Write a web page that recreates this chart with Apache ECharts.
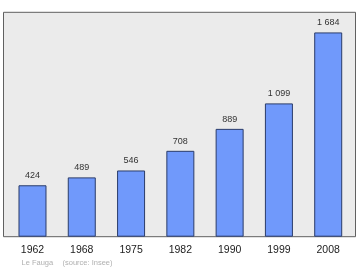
<!DOCTYPE html>
<html>
<head>
<meta charset="utf-8">
<script src="https://cdn.jsdelivr.net/npm/echarts@6/dist/echarts.min.js"></script>
<style>html,body{margin:0;padding:0;background:#fff;}#c{width:360px;height:270px;}</style>
</head>
<body>
<div id="c"></div>
<script>
var years = ['1962', '1968', '1975', '1982', '1990', '1999', '2008'];
var population = [424, 489, 546, 708, 889, 1099, 1684];
var placeName = 'Le Fauga';
var sourceText = '(source: Insee)';

function fmt(v) {
  return String(v).replace(/\B(?=(\d{3})+(?!\d))/g, ' ');
}

var chart = echarts.init(document.getElementById('c'), null, {renderer: 'canvas'});
chart.setOption({
  animation: false,
  backgroundColor: '#ffffff',
  textStyle: {fontFamily: 'Liberation Sans, Arial, sans-serif'},
  title: [
    {text: placeName, left: 21.5, top: 258.5, padding: 0, textStyle: {fontSize: 7.5, fontWeight: 'normal', color: '#b0b0b0'}},
    {text: sourceText, left: 62.5, top: 258.5, padding: 0, textStyle: {fontSize: 7.5, fontWeight: 'normal', color: '#b0b0b0'}}
  ],
  grid: [
    {left: 3.5, top: 12.3, width: 352, height: 224.4, show: true, backgroundColor: '#ebebeb', borderColor: '#606060', borderWidth: 1},
    {left: 7.85, top: 12.3, width: 345, height: 224.4, show: false}
  ],
  xAxis: [
    {gridIndex: 0, type: 'category', data: years, show: false},
    {gridIndex: 1, type: 'category', data: years,
     axisLine: {show: false}, axisTick: {show: false},
     axisLabel: {fontSize: 10.5, color: '#222222', margin: 8}}
  ],
  yAxis: [
    {gridIndex: 0, type: 'value', show: false, min: 0, max: 1850},
    {gridIndex: 1, type: 'value', show: false, min: 0, max: 1850}
  ],
  series: [{
    type: 'bar',
    xAxisIndex: 1,
    yAxisIndex: 1,
    data: population,
    barWidth: 28,
    itemStyle: {color: '#7099fb', borderColor: '#2a3c6a', borderWidth: 1},
    label: {show: true, position: 'top', distance: 5, fontSize: 9, color: '#333333', formatter: function (p) { return fmt(p.value); }}
  }]
});
</script>
</body>
</html>
